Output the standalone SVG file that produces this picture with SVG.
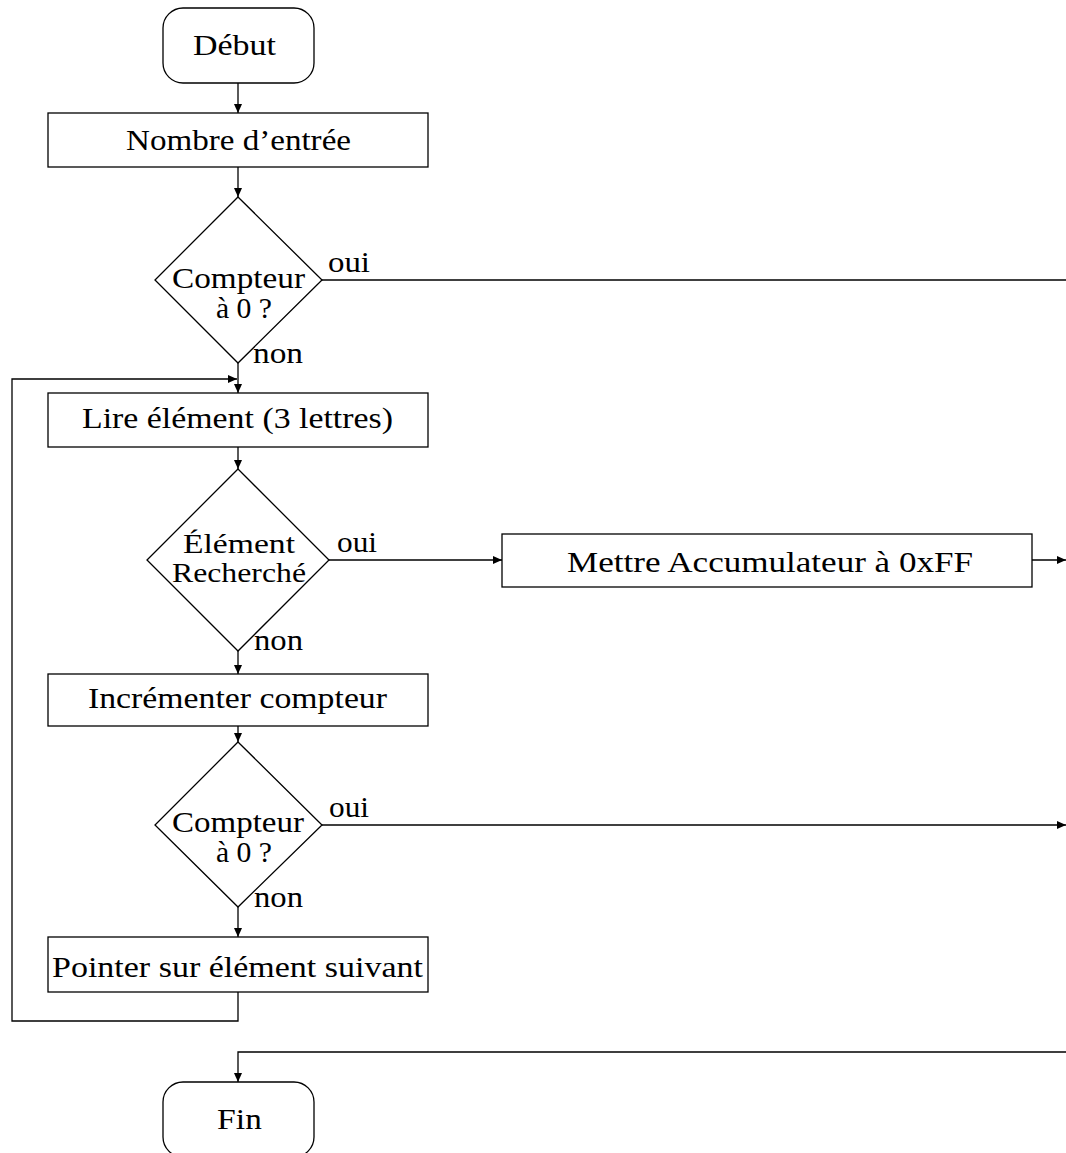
<svg xmlns="http://www.w3.org/2000/svg" width="1066" height="1153" viewBox="0 0 1066 1153">
  <style>
    .shape { fill: #ffffff; stroke: #000000; stroke-width: 1.3; }
    .wire { fill: none; stroke: #000000; stroke-width: 1.3; }
    .lbl { font-family: "Liberation Serif", "Times New Roman", serif; font-size: 30px; fill: #000000; }
    .tight { font-size: 27px; }
  </style>
  <defs>
    <marker id="tip" markerUnits="userSpaceOnUse" markerWidth="10" markerHeight="8" refX="9" refY="4" orient="auto">
      <path d="M0,0 L9,4 L0,8 Z" fill="#000000"/>
    </marker>
  </defs>

  <rect width="1066" height="1153" fill="#ffffff"/>

  <!-- connectors -->
  <g id="connectors">
    <path class="wire" d="M238,83 V113" marker-end="url(#tip)"/>
    <path class="wire" d="M238,167 V197" marker-end="url(#tip)"/>
    <path class="wire" d="M322,280 H1066"/>
    <path class="wire" d="M238,363 V393" marker-end="url(#tip)"/>
    <path class="wire" d="M238,992 V1021 H12 V379 H237" marker-end="url(#tip)"/>
    <path class="wire" d="M238,447 V469" marker-end="url(#tip)"/>
    <path class="wire" d="M329,560 H502" marker-end="url(#tip)"/>
    <path class="wire" d="M1032,560 H1066" marker-end="url(#tip)"/>
    <path class="wire" d="M238,651 V674" marker-end="url(#tip)"/>
    <path class="wire" d="M238,726 V742" marker-end="url(#tip)"/>
    <path class="wire" d="M322,825 H1066" marker-end="url(#tip)"/>
    <path class="wire" d="M238,907 V937" marker-end="url(#tip)"/>
    <path class="wire" d="M1066,1052 H238 V1082" marker-end="url(#tip)"/>
    <text class="lbl" x="328" y="272" textLength="42" lengthAdjust="spacingAndGlyphs">oui</text>
    <text class="lbl" x="253" y="363" textLength="50" lengthAdjust="spacingAndGlyphs">non</text>
    <text class="lbl" x="337" y="552" textLength="40" lengthAdjust="spacingAndGlyphs">oui</text>
    <text class="lbl" x="254" y="650" textLength="49" lengthAdjust="spacingAndGlyphs">non</text>
    <text class="lbl" x="329" y="817" textLength="40" lengthAdjust="spacingAndGlyphs">oui</text>
    <text class="lbl" x="254" y="907" textLength="49" lengthAdjust="spacingAndGlyphs">non</text>
  </g>

  <!-- start -->
  <g id="debut">
    <rect class="shape" x="163" y="8" width="151" height="75" rx="20" ry="20"/>
    <text class="lbl" x="193" y="55" textLength="83" lengthAdjust="spacingAndGlyphs">Début</text>
  </g>

  <g id="nombre-entree">
    <rect class="shape" x="48" y="113" width="380" height="54"/>
    <text class="lbl" x="126" y="150" textLength="225" lengthAdjust="spacingAndGlyphs">Nombre d’entrée</text>
  </g>

  <g id="test-compteur-1">
    <polygon class="shape" points="238,197 322,280 238,363 155,280"/>
    <text class="lbl" x="172" y="288" textLength="133" lengthAdjust="spacingAndGlyphs">Compteur</text>
    <text class="lbl" x="216" y="318" textLength="56" lengthAdjust="spacingAndGlyphs">à 0 ?</text>
  </g>

  <g id="lire-element">
    <rect class="shape" x="48" y="393" width="380" height="54"/>
    <text class="lbl" x="82" y="428" textLength="311" lengthAdjust="spacingAndGlyphs">Lire élément (3 lettres)</text>
  </g>

  <g id="test-element">
    <polygon class="shape" points="238,469 329,560 238,651 147,560"/>
    <text class="lbl tight" x="183" y="553" textLength="112" lengthAdjust="spacingAndGlyphs">Élément</text>
    <text class="lbl tight" x="172" y="582" textLength="134" lengthAdjust="spacingAndGlyphs">Recherché</text>
  </g>

  <g id="accumulateur">
    <rect class="shape" x="502" y="534" width="530" height="53"/>
    <text class="lbl" x="567" y="572" textLength="406" lengthAdjust="spacingAndGlyphs">Mettre Accumulateur à 0xFF</text>
  </g>

  <g id="incrementer">
    <rect class="shape" x="48" y="674" width="380" height="52"/>
    <text class="lbl" x="88" y="708" textLength="299" lengthAdjust="spacingAndGlyphs">Incrémenter compteur</text>
  </g>

  <g id="test-compteur-2">
    <polygon class="shape" points="238,742 322,825 238,907 155,825"/>
    <text class="lbl" x="172" y="832" textLength="132" lengthAdjust="spacingAndGlyphs">Compteur</text>
    <text class="lbl" x="216" y="862" textLength="56" lengthAdjust="spacingAndGlyphs">à 0 ?</text>
  </g>

  <g id="pointer-suivant">
    <rect class="shape" x="48" y="937" width="380" height="55"/>
    <text class="lbl" x="52" y="977" textLength="371" lengthAdjust="spacingAndGlyphs">Pointer sur élément suivant</text>
  </g>

  <!-- end -->
  <g id="fin">
    <rect class="shape" x="163" y="1082" width="151" height="75" rx="20" ry="20"/>
    <text class="lbl" x="217" y="1129" textLength="45" lengthAdjust="spacingAndGlyphs">Fin</text>
  </g>
</svg>
